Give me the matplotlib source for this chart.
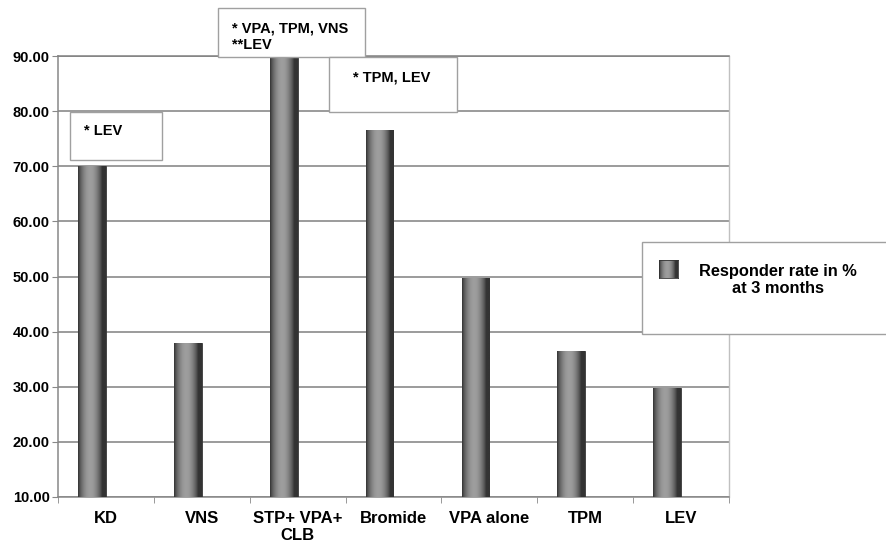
import matplotlib
matplotlib.use('Agg')
import matplotlib.pyplot as plt
import numpy as np
from matplotlib.patches import Rectangle

plt.rcParams['font.family'] = ['Liberation Sans', 'DejaVu Sans']
plt.rcParams['font.weight'] = 'bold'

# data
categories = ['KD', 'VNS', 'STP+ VPA+\nCLB', 'Bromide', 'VPA alone', 'TPM', 'LEV']
responder_rate = [70.0, 38.0, 90.0, 76.6, 49.8, 36.4, 29.7]
series_label = 'Responder rate in %\nat 3 months'
yticks = [10, 20, 30, 40, 50, 60, 70, 80, 90]
notes = ['* LEV', '* VPA, TPM, VNS\n**LEV', '* TPM, LEV']

W, H = 887, 545
fig = plt.figure(figsize=(W / 100, H / 100), dpi=100)
ax = fig.add_axes([58 / W, 1 - 497 / H, (729 - 58) / W, (497 - 56) / H])

ymin, ymax = 10, 90
x = np.arange(len(categories))
bw = 0.29
shift = -0.145   # bars sit left of the category centre

# cylinder-like shading across each bar
t = np.linspace(0, 1, 64)
shade = 0.2 + 0.42 * np.sin(np.pi * np.clip(t * 1.15, 0, 1)) ** 0.8
grad = np.tile(shade, (2, 1))

bars = ax.bar(x + shift, np.array(responder_rate) - ymin, bottom=ymin, width=bw,
              color='#777777', edgecolor='#333333', linewidth=0.6, zorder=3)
for b in bars:
    x0, y0 = b.get_x(), b.get_y()
    im = ax.imshow(grad, cmap='gray', vmin=0, vmax=1, aspect='auto',
                   extent=(x0, x0 + b.get_width(), y0, y0 + b.get_height()),
                   zorder=3.5, interpolation='bilinear')
    im.set_clip_path(b)

ax.set_xlim(-0.5, len(categories) - 0.5)
ax.set_ylim(ymin, ymax)
ax.set_aspect('auto')

ax.set_yticks(yticks)
ax.set_yticklabels(['%.2f' % v for v in yticks], fontsize=10.5, fontweight='bold')
ax.set_xticks(x)
ax.set_xticklabels(categories, fontsize=12, fontweight='bold', linespacing=1.15)
ax.set_xticks(np.arange(-0.5, len(categories)), minor=True)
ax.tick_params(axis='x', which='major', length=0, pad=10)
ax.tick_params(axis='x', which='minor', length=4, color='#888888', direction='out')
ax.tick_params(axis='y', length=4, color='#888888', pad=2)

ax.yaxis.grid(True, color='#808080', linewidth=1.1, zorder=1)
ax.set_axisbelow(True)
for s in ['left', 'bottom']:
    ax.spines[s].set_color('#888888')
    ax.spines[s].set_linewidth(1.1)
ax.spines['top'].set_color('#808080')
ax.spines['top'].set_linewidth(1.1)
ax.spines['right'].set_color('#c0c0c0')
ax.spines['right'].set_linewidth(1.0)


def fig_box(x0, y0, x1, y1):
    r = Rectangle((x0 / W, 1 - y1 / H), (x1 - x0) / W, (y1 - y0) / H,
                  transform=fig.transFigure, facecolor='white',
                  edgecolor='#a0a0a0', linewidth=1.0, zorder=10)
    fig.add_artist(r)


# significance note boxes
fig_box(70, 112, 162, 160)
fig.text(84 / W, 1 - 131 / H, notes[0], fontsize=10.5, fontweight='bold',
         va='center', ha='left', zorder=11)
fig_box(218, 8, 365, 57)
fig.text(232 / W, 1 - 37 / H, notes[1], fontsize=10.5, fontweight='bold',
         va='center', ha='left', linespacing=1.25, zorder=11)
fig_box(329, 57, 457, 112)
fig.text(353 / W, 1 - 77 / H, notes[2], fontsize=10.5, fontweight='bold',
         va='center', ha='left', zorder=11)

# legend box
fig_box(642, 242, 900, 334)
lg = fig.add_axes([659 / W, 1 - 278 / H, 19 / W, 18 / H], zorder=12)
lg.imshow(grad, cmap='gray', vmin=0, vmax=1, aspect='auto', interpolation='bilinear')
lg.set_xticks([])
lg.set_yticks([])
for s in lg.spines.values():
    s.set_color('#333333')
    s.set_linewidth(0.6)
fig.text(778 / W, 1 - 280 / H, series_label, fontsize=11.8, fontweight='bold',
         va='center', ha='center', linespacing=1.15, zorder=13)

fig.savefig('out.png', dpi=100)
